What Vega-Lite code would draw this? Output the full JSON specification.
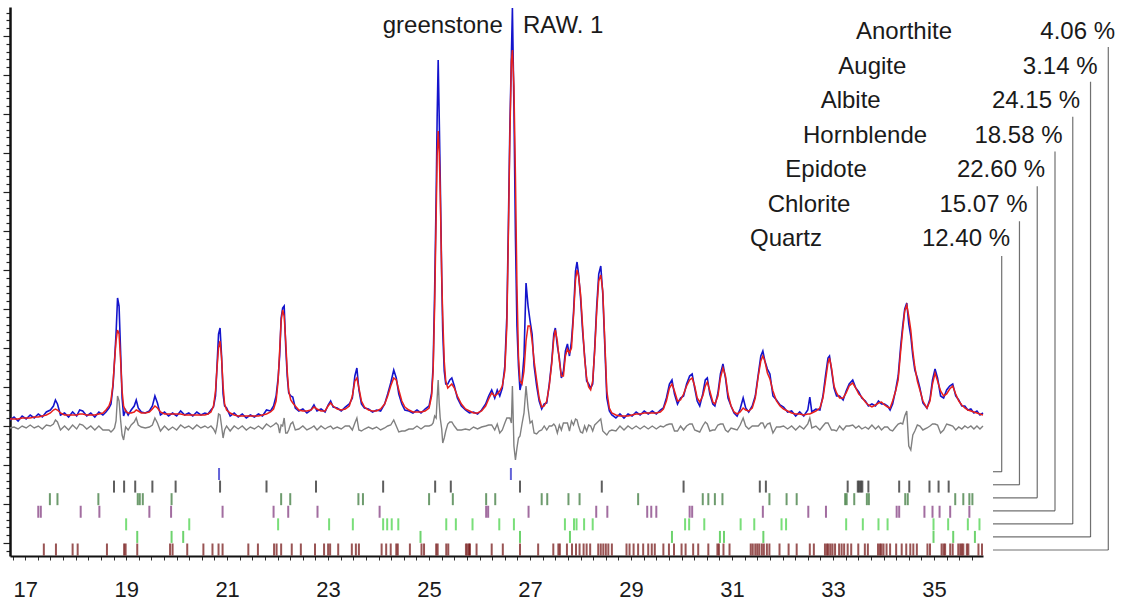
{
  "$schema": "https://vega.github.io/schema/vega-lite/v6.json",
  "width": 973,
  "height": 549,
  "autosize": {"type": "none"},
  "padding": {"left": 10, "top": 7, "right": 139, "bottom": 49},
  "background": "white",
  "config": {"view": {"stroke": null}, "font": "Liberation Sans"},
  "datasets": {
    "profile": [
      {"t":16.70,"obs":136,"calc":137,"diff":128},{"t":16.78,"obs":139,"calc":137,"diff":129},{"t":16.86,"obs":135,"calc":137,"diff":127},{"t":16.94,"obs":140,"calc":138,"diff":130},{"t":17.02,"obs":137,"calc":138,"diff":128},{"t":17.10,"obs":141,"calc":138,"diff":131},{"t":17.18,"obs":138,"calc":139,"diff":128},{"t":17.26,"obs":142,"calc":139,"diff":130},{"t":17.34,"obs":139,"calc":140,"diff":127},{"t":17.42,"obs":144,"calc":141,"diff":131},{"t":17.50,"obs":146,"calc":143,"diff":130},{"t":17.56,"obs":150,"calc":146,"diff":132},{"t":17.60,"obs":156,"calc":147,"diff":136},{"t":17.64,"obs":152,"calc":146,"diff":134},{"t":17.70,"obs":141,"calc":143,"diff":126},{"t":17.78,"obs":143,"calc":141,"diff":130},{"t":17.86,"obs":139,"calc":141,"diff":126},{"t":17.94,"obs":144,"calc":141,"diff":131},{"t":18.02,"obs":140,"calc":141,"diff":127},{"t":18.08,"obs":146,"calc":142,"diff":132},{"t":18.14,"obs":145,"calc":142,"diff":131},{"t":18.22,"obs":140,"calc":141,"diff":127},{"t":18.30,"obs":143,"calc":141,"diff":130},{"t":18.38,"obs":139,"calc":141,"diff":126},{"t":18.46,"obs":144,"calc":142,"diff":130},{"t":18.54,"obs":141,"calc":143,"diff":126},{"t":18.60,"obs":144,"calc":146,"diff":126},{"t":18.66,"obs":148,"calc":150,"diff":126},{"t":18.70,"obs":152,"calc":156,"diff":124},{"t":18.74,"obs":170,"calc":172,"diff":126},{"t":18.77,"obs":195,"calc":195,"diff":128},{"t":18.80,"obs":222,"calc":215,"diff":135},{"t":18.83,"obs":258,"calc":226,"diff":160},{"t":18.86,"obs":250,"calc":222,"diff":155},{"t":18.89,"obs":205,"calc":196,"diff":136},{"t":18.92,"obs":158,"calc":165,"diff":121},{"t":18.95,"obs":140,"calc":150,"diff":116},{"t":18.99,"obs":146,"calc":145,"diff":129},{"t":19.04,"obs":141,"calc":143,"diff":126},{"t":19.10,"obs":146,"calc":143,"diff":131},{"t":19.16,"obs":150,"calc":144,"diff":134},{"t":19.20,"obs":156,"calc":146,"diff":138},{"t":19.24,"obs":148,"calc":145,"diff":131},{"t":19.30,"obs":144,"calc":143,"diff":129},{"t":19.38,"obs":143,"calc":143,"diff":128},{"t":19.46,"obs":145,"calc":144,"diff":129},{"t":19.52,"obs":150,"calc":147,"diff":131},{"t":19.57,"obs":160,"calc":150,"diff":138},{"t":19.62,"obs":153,"calc":148,"diff":133},{"t":19.68,"obs":141,"calc":144,"diff":125},{"t":19.76,"obs":144,"calc":142,"diff":130},{"t":19.84,"obs":140,"calc":142,"diff":126},{"t":19.92,"obs":143,"calc":142,"diff":129},{"t":20.00,"obs":140,"calc":142,"diff":126},{"t":20.08,"obs":145,"calc":142,"diff":131},{"t":20.16,"obs":141,"calc":141,"diff":128},{"t":20.24,"obs":143,"calc":141,"diff":130},{"t":20.32,"obs":140,"calc":141,"diff":127},{"t":20.40,"obs":144,"calc":141,"diff":131},{"t":20.48,"obs":141,"calc":141,"diff":128},{"t":20.56,"obs":143,"calc":141,"diff":130},{"t":20.62,"obs":142,"calc":142,"diff":128},{"t":20.68,"obs":146,"calc":144,"diff":130},{"t":20.73,"obs":149,"calc":150,"diff":127},{"t":20.77,"obs":160,"calc":165,"diff":123},{"t":20.80,"obs":190,"calc":188,"diff":130},{"t":20.83,"obs":222,"calc":208,"diff":142},{"t":20.86,"obs":228,"calc":215,"diff":141},{"t":20.89,"obs":200,"calc":198,"diff":130},{"t":20.92,"obs":162,"calc":170,"diff":118},{"t":20.95,"obs":150,"calc":152,"diff":126},{"t":20.99,"obs":148,"calc":146,"diff":130},{"t":21.06,"obs":140,"calc":143,"diff":125},{"t":21.14,"obs":143,"calc":141,"diff":130},{"t":21.22,"obs":139,"calc":140,"diff":127},{"t":21.30,"obs":142,"calc":140,"diff":130},{"t":21.38,"obs":138,"calc":140,"diff":126},{"t":21.46,"obs":141,"calc":140,"diff":129},{"t":21.54,"obs":139,"calc":140,"diff":127},{"t":21.62,"obs":142,"calc":140,"diff":130},{"t":21.70,"obs":140,"calc":141,"diff":127},{"t":21.78,"obs":146,"calc":142,"diff":132},{"t":21.86,"obs":145,"calc":144,"diff":129},{"t":21.92,"obs":150,"calc":147,"diff":131},{"t":21.97,"obs":160,"calc":155,"diff":133},{"t":22.01,"obs":178,"calc":175,"diff":131},{"t":22.04,"obs":200,"calc":205,"diff":123},{"t":22.07,"obs":238,"calc":235,"diff":131},{"t":22.10,"obs":248,"calc":246,"diff":130},{"t":22.13,"obs":250,"calc":240,"diff":138},{"t":22.16,"obs":210,"calc":215,"diff":123},{"t":22.19,"obs":180,"calc":185,"diff":123},{"t":22.22,"obs":163,"calc":165,"diff":126},{"t":22.26,"obs":160,"calc":156,"diff":132},{"t":22.30,"obs":159,"calc":153,"diff":134},{"t":22.35,"obs":148,"calc":150,"diff":126},{"t":22.42,"obs":145,"calc":146,"diff":127},{"t":22.50,"obs":147,"calc":145,"diff":130},{"t":22.58,"obs":143,"calc":145,"diff":126},{"t":22.66,"obs":146,"calc":146,"diff":128},{"t":22.72,"obs":151,"calc":149,"diff":130},{"t":22.78,"obs":145,"calc":147,"diff":126},{"t":22.86,"obs":147,"calc":145,"diff":130},{"t":22.94,"obs":144,"calc":145,"diff":127},{"t":23.00,"obs":151,"calc":150,"diff":129},{"t":23.05,"obs":155,"calc":153,"diff":130},{"t":23.10,"obs":149,"calc":150,"diff":127},{"t":23.18,"obs":148,"calc":147,"diff":129},{"t":23.26,"obs":145,"calc":146,"diff":127},{"t":23.34,"obs":149,"calc":147,"diff":130},{"t":23.42,"obs":152,"calc":150,"diff":130},{"t":23.48,"obs":158,"calc":160,"diff":126},{"t":23.53,"obs":180,"calc":175,"diff":133},{"t":23.57,"obs":188,"calc":178,"diff":138},{"t":23.61,"obs":166,"calc":168,"diff":126},{"t":23.66,"obs":152,"calc":155,"diff":125},{"t":23.72,"obs":148,"calc":149,"diff":127},{"t":23.80,"obs":147,"calc":146,"diff":129},{"t":23.88,"obs":144,"calc":145,"diff":127},{"t":23.96,"obs":146,"calc":145,"diff":129},{"t":24.04,"obs":145,"calc":147,"diff":126},{"t":24.12,"obs":152,"calc":152,"diff":128},{"t":24.18,"obs":162,"calc":160,"diff":130},{"t":24.24,"obs":173,"calc":170,"diff":131},{"t":24.30,"obs":186,"calc":178,"diff":136},{"t":24.35,"obs":178,"calc":176,"diff":130},{"t":24.40,"obs":162,"calc":166,"diff":124},{"t":24.46,"obs":152,"calc":155,"diff":125},{"t":24.52,"obs":146,"calc":149,"diff":125},{"t":24.60,"obs":145,"calc":146,"diff":127},{"t":24.68,"obs":143,"calc":144,"diff":127},{"t":24.76,"obs":146,"calc":144,"diff":130},{"t":24.84,"obs":143,"calc":144,"diff":127},{"t":24.92,"obs":147,"calc":145,"diff":130},{"t":25.00,"obs":150,"calc":148,"diff":130},{"t":25.05,"obs":163,"calc":160,"diff":131},{"t":25.08,"obs":190,"calc":185,"diff":133},{"t":25.11,"obs":265,"calc":250,"diff":140},{"t":25.14,"obs":360,"calc":340,"diff":138},{"t":25.16,"obs":440,"calc":400,"diff":158},{"t":25.18,"obs":496,"calc":425,"diff":176},{"t":25.20,"obs":440,"calc":405,"diff":153},{"t":25.22,"obs":380,"calc":365,"diff":138},{"t":25.25,"obs":279,"calc":280,"diff":127},{"t":25.27,"obs":225,"calc":240,"diff":113},{"t":25.30,"obs":185,"calc":195,"diff":118},{"t":25.33,"obs":172,"calc":175,"diff":125},{"t":25.37,"obs":172,"calc":168,"diff":132},{"t":25.41,"obs":176,"calc":170,"diff":134},{"t":25.45,"obs":178,"calc":172,"diff":134},{"t":25.50,"obs":170,"calc":168,"diff":130},{"t":25.56,"obs":158,"calc":160,"diff":126},{"t":25.64,"obs":150,"calc":152,"diff":126},{"t":25.72,"obs":146,"calc":147,"diff":127},{"t":25.80,"obs":143,"calc":145,"diff":126},{"t":25.88,"obs":144,"calc":143,"diff":129},{"t":25.96,"obs":142,"calc":143,"diff":127},{"t":26.04,"obs":146,"calc":145,"diff":129},{"t":26.12,"obs":152,"calc":150,"diff":130},{"t":26.18,"obs":160,"calc":157,"diff":131},{"t":26.24,"obs":166,"calc":163,"diff":131},{"t":26.30,"obs":158,"calc":160,"diff":126},{"t":26.35,"obs":166,"calc":162,"diff":132},{"t":26.40,"obs":160,"calc":165,"diff":123},{"t":26.45,"obs":168,"calc":170,"diff":126},{"t":26.50,"obs":190,"calc":185,"diff":133},{"t":26.54,"obs":240,"calc":230,"diff":138},{"t":26.57,"obs":330,"calc":320,"diff":138},{"t":26.60,"obs":430,"calc":420,"diff":138},{"t":26.63,"obs":500,"calc":495,"diff":133},{"t":26.65,"obs":548,"calc":506,"diff":170},{"t":26.68,"obs":450,"calc":470,"diff":110},{"t":26.71,"obs":320,"calc":380,"diff":96},{"t":26.74,"obs":230,"calc":270,"diff":108},{"t":26.77,"obs":190,"calc":200,"diff":118},{"t":26.80,"obs":166,"calc":175,"diff":120},{"t":26.84,"obs":175,"calc":172,"diff":132},{"t":26.88,"obs":200,"calc":185,"diff":143},{"t":26.92,"obs":273,"calc":215,"diff":170},{"t":26.96,"obs":250,"calc":230,"diff":148},{"t":27.00,"obs":235,"calc":230,"diff":133},{"t":27.04,"obs":222,"calc":215,"diff":135},{"t":27.08,"obs":190,"calc":195,"diff":123},{"t":27.13,"obs":170,"calc":176,"diff":122},{"t":27.18,"obs":155,"calc":158,"diff":125},{"t":27.23,"obs":147,"calc":149,"diff":126},{"t":27.28,"obs":152,"calc":150,"diff":130},{"t":27.33,"obs":153,"calc":155,"diff":126},{"t":27.38,"obs":172,"calc":170,"diff":130},{"t":27.43,"obs":195,"calc":193,"diff":130},{"t":27.47,"obs":222,"calc":218,"diff":132},{"t":27.50,"obs":228,"calc":226,"diff":130},{"t":27.54,"obs":210,"calc":215,"diff":123},{"t":27.58,"obs":198,"calc":195,"diff":131},{"t":27.62,"obs":178,"calc":180,"diff":126},{"t":27.66,"obs":185,"calc":180,"diff":133},{"t":27.70,"obs":205,"calc":200,"diff":133},{"t":27.74,"obs":212,"calc":207,"diff":133},{"t":27.78,"obs":200,"calc":203,"diff":125},{"t":27.82,"obs":215,"calc":208,"diff":135},{"t":27.86,"obs":243,"calc":240,"diff":131},{"t":27.90,"obs":285,"calc":276,"diff":137},{"t":27.93,"obs":294,"calc":286,"diff":136},{"t":27.96,"obs":282,"calc":280,"diff":130},{"t":28.00,"obs":258,"calc":262,"diff":124},{"t":28.04,"obs":225,"calc":230,"diff":123},{"t":28.08,"obs":200,"calc":198,"diff":130},{"t":28.12,"obs":175,"calc":178,"diff":125},{"t":28.16,"obs":172,"calc":169,"diff":131},{"t":28.20,"obs":168,"calc":166,"diff":130},{"t":28.24,"obs":172,"calc":175,"diff":125},{"t":28.28,"obs":208,"calc":205,"diff":131},{"t":28.32,"obs":250,"calc":245,"diff":133},{"t":28.36,"obs":282,"calc":275,"diff":135},{"t":28.40,"obs":290,"calc":281,"diff":137},{"t":28.44,"obs":262,"calc":265,"diff":125},{"t":28.48,"obs":210,"calc":215,"diff":123},{"t":28.52,"obs":158,"calc":165,"diff":121},{"t":28.57,"obs":145,"calc":148,"diff":125},{"t":28.62,"obs":141,"calc":143,"diff":126},{"t":28.70,"obs":138,"calc":141,"diff":125},{"t":28.78,"obs":142,"calc":140,"diff":130},{"t":28.86,"obs":138,"calc":140,"diff":126},{"t":28.94,"obs":142,"calc":140,"diff":130},{"t":29.02,"obs":140,"calc":141,"diff":127},{"t":29.10,"obs":144,"calc":142,"diff":130},{"t":29.18,"obs":141,"calc":142,"diff":127},{"t":29.26,"obs":145,"calc":143,"diff":130},{"t":29.34,"obs":142,"calc":143,"diff":127},{"t":29.42,"obs":145,"calc":143,"diff":130},{"t":29.50,"obs":142,"calc":143,"diff":127},{"t":29.58,"obs":146,"calc":144,"diff":130},{"t":29.64,"obs":148,"calc":147,"diff":129},{"t":29.70,"obs":158,"calc":155,"diff":131},{"t":29.76,"obs":172,"calc":168,"diff":132},{"t":29.81,"obs":176,"calc":172,"diff":132},{"t":29.86,"obs":162,"calc":165,"diff":125},{"t":29.92,"obs":152,"calc":155,"diff":125},{"t":29.98,"obs":158,"calc":156,"diff":130},{"t":30.04,"obs":160,"calc":162,"diff":126},{"t":30.10,"obs":172,"calc":170,"diff":130},{"t":30.16,"obs":180,"calc":176,"diff":132},{"t":30.21,"obs":182,"calc":178,"diff":132},{"t":30.26,"obs":168,"calc":170,"diff":126},{"t":30.31,"obs":155,"calc":158,"diff":125},{"t":30.36,"obs":150,"calc":154,"diff":124},{"t":30.42,"obs":162,"calc":160,"diff":130},{"t":30.47,"obs":176,"calc":170,"diff":134},{"t":30.51,"obs":178,"calc":174,"diff":132},{"t":30.56,"obs":162,"calc":165,"diff":125},{"t":30.62,"obs":152,"calc":154,"diff":126},{"t":30.66,"obs":150,"calc":152,"diff":126},{"t":30.72,"obs":163,"calc":160,"diff":131},{"t":30.77,"obs":182,"calc":178,"diff":132},{"t":30.82,"obs":192,"calc":188,"diff":132},{"t":30.87,"obs":178,"calc":180,"diff":126},{"t":30.92,"obs":158,"calc":162,"diff":124},{"t":30.98,"obs":150,"calc":150,"diff":128},{"t":31.04,"obs":143,"calc":144,"diff":127},{"t":31.10,"obs":140,"calc":142,"diff":126},{"t":31.16,"obs":147,"calc":144,"diff":131},{"t":31.22,"obs":158,"calc":148,"diff":138},{"t":31.27,"obs":148,"calc":146,"diff":130},{"t":31.33,"obs":144,"calc":145,"diff":127},{"t":31.40,"obs":150,"calc":148,"diff":130},{"t":31.46,"obs":160,"calc":158,"diff":130},{"t":31.52,"obs":182,"calc":180,"diff":130},{"t":31.57,"obs":200,"calc":195,"diff":133},{"t":31.61,"obs":205,"calc":200,"diff":133},{"t":31.65,"obs":195,"calc":195,"diff":128},{"t":31.70,"obs":187,"calc":183,"diff":132},{"t":31.75,"obs":182,"calc":177,"diff":133},{"t":31.81,"obs":160,"calc":165,"diff":123},{"t":31.88,"obs":156,"calc":155,"diff":129},{"t":31.95,"obs":151,"calc":150,"diff":129},{"t":32.02,"obs":149,"calc":147,"diff":130},{"t":32.10,"obs":144,"calc":145,"diff":127},{"t":32.18,"obs":145,"calc":143,"diff":130},{"t":32.26,"obs":140,"calc":142,"diff":126},{"t":32.34,"obs":144,"calc":142,"diff":130},{"t":32.42,"obs":140,"calc":141,"diff":127},{"t":32.50,"obs":146,"calc":142,"diff":132},{"t":32.54,"obs":159,"calc":142,"diff":138},{"t":32.58,"obs":144,"calc":143,"diff":128},{"t":32.66,"obs":147,"calc":145,"diff":130},{"t":32.74,"obs":146,"calc":148,"diff":126},{"t":32.80,"obs":160,"calc":158,"diff":130},{"t":32.85,"obs":180,"calc":175,"diff":133},{"t":32.90,"obs":198,"calc":193,"diff":133},{"t":32.93,"obs":200,"calc":198,"diff":130},{"t":32.97,"obs":186,"calc":188,"diff":126},{"t":33.02,"obs":168,"calc":170,"diff":126},{"t":33.07,"obs":160,"calc":163,"diff":125},{"t":33.13,"obs":160,"calc":158,"diff":130},{"t":33.20,"obs":156,"calc":158,"diff":126},{"t":33.26,"obs":165,"calc":163,"diff":130},{"t":33.32,"obs":172,"calc":170,"diff":130},{"t":33.39,"obs":176,"calc":173,"diff":131},{"t":33.45,"obs":168,"calc":168,"diff":128},{"t":33.51,"obs":164,"calc":162,"diff":130},{"t":33.57,"obs":158,"calc":159,"diff":127},{"t":33.64,"obs":155,"calc":154,"diff":129},{"t":33.70,"obs":150,"calc":151,"diff":127},{"t":33.77,"obs":152,"calc":149,"diff":131},{"t":33.84,"obs":150,"calc":151,"diff":127},{"t":33.90,"obs":155,"calc":153,"diff":130},{"t":33.96,"obs":152,"calc":154,"diff":126},{"t":34.02,"obs":152,"calc":151,"diff":129},{"t":34.08,"obs":150,"calc":149,"diff":129},{"t":34.13,"obs":146,"calc":148,"diff":126},{"t":34.18,"obs":152,"calc":155,"diff":125},{"t":34.24,"obs":166,"calc":165,"diff":129},{"t":34.29,"obs":180,"calc":176,"diff":132},{"t":34.34,"obs":210,"calc":205,"diff":133},{"t":34.38,"obs":230,"calc":226,"diff":132},{"t":34.42,"obs":247,"calc":245,"diff":140},{"t":34.46,"obs":253,"calc":251,"diff":145},{"t":34.50,"obs":232,"calc":240,"diff":110},{"t":34.54,"obs":220,"calc":226,"diff":106},{"t":34.58,"obs":200,"calc":205,"diff":121},{"t":34.62,"obs":186,"calc":189,"diff":125},{"t":34.67,"obs":178,"calc":175,"diff":131},{"t":34.72,"obs":168,"calc":166,"diff":130},{"t":34.78,"obs":153,"calc":155,"diff":126},{"t":34.86,"obs":148,"calc":148,"diff":128},{"t":34.92,"obs":157,"calc":155,"diff":130},{"t":34.97,"obs":176,"calc":172,"diff":132},{"t":35.02,"obs":187,"calc":183,"diff":132},{"t":35.07,"obs":178,"calc":175,"diff":131},{"t":35.13,"obs":160,"calc":165,"diff":123},{"t":35.19,"obs":158,"calc":160,"diff":126},{"t":35.25,"obs":166,"calc":162,"diff":132},{"t":35.31,"obs":170,"calc":167,"diff":131},{"t":35.37,"obs":172,"calc":170,"diff":130},{"t":35.43,"obs":160,"calc":162,"diff":126},{"t":35.49,"obs":156,"calc":155,"diff":129},{"t":35.55,"obs":150,"calc":151,"diff":127},{"t":35.61,"obs":150,"calc":148,"diff":130},{"t":35.67,"obs":146,"calc":146,"diff":128},{"t":35.73,"obs":147,"calc":145,"diff":130},{"t":35.79,"obs":143,"calc":144,"diff":127},{"t":35.85,"obs":145,"calc":143,"diff":130},{"t":35.91,"obs":141,"calc":142,"diff":127},{"t":35.97,"obs":143,"calc":141,"diff":130}
    ],
    "ticks": [
      {"phase":"Quartz","t":20.84},{"phase":"Quartz","t":26.62},
      {"phase":"Chlorite","t":18.76},{"phase":"Chlorite","t":18.96},{"phase":"Chlorite","t":19.18},{"phase":"Chlorite","t":19.52},{"phase":"Chlorite","t":19.98},{"phase":"Chlorite","t":20.86},{"phase":"Chlorite","t":21.78},{"phase":"Chlorite","t":22.76},{"phase":"Chlorite","t":24.09},{"phase":"Chlorite","t":25.12},{"phase":"Chlorite","t":25.43},{"phase":"Chlorite","t":26.80},{"phase":"Chlorite","t":28.42},{"phase":"Chlorite","t":30.04},{"phase":"Chlorite","t":31.55},{"phase":"Chlorite","t":31.67},{"phase":"Chlorite","t":33.29},{"phase":"Chlorite","t":33.49},{"phase":"Chlorite","t":33.52},{"phase":"Chlorite","t":33.55},{"phase":"Chlorite","t":33.58},{"phase":"Chlorite","t":33.70},{"phase":"Chlorite","t":34.31},{"phase":"Chlorite","t":34.51},{"phase":"Chlorite","t":34.91},{"phase":"Chlorite","t":35.09},{"phase":"Chlorite","t":35.29},
      {"phase":"Epidote","t":17.49},{"phase":"Epidote","t":17.64},{"phase":"Epidote","t":18.45},{"phase":"Epidote","t":19.23},{"phase":"Epidote","t":19.27},{"phase":"Epidote","t":19.33},{"phase":"Epidote","t":19.90},{"phase":"Epidote","t":22.07},{"phase":"Epidote","t":22.25},{"phase":"Epidote","t":23.60},{"phase":"Epidote","t":23.69},{"phase":"Epidote","t":25.00},{"phase":"Epidote","t":25.47},{"phase":"Epidote","t":26.13},{"phase":"Epidote","t":26.31},{"phase":"Epidote","t":27.23},{"phase":"Epidote","t":27.34},{"phase":"Epidote","t":27.76},{"phase":"Epidote","t":27.98},{"phase":"Epidote","t":29.14},{"phase":"Epidote","t":30.42},{"phase":"Epidote","t":30.53},{"phase":"Epidote","t":30.66},{"phase":"Epidote","t":30.81},{"phase":"Epidote","t":31.74},{"phase":"Epidote","t":32.08},{"phase":"Epidote","t":32.28},{"phase":"Epidote","t":33.24},{"phase":"Epidote","t":33.27},{"phase":"Epidote","t":33.42},{"phase":"Epidote","t":33.67},{"phase":"Epidote","t":33.71},{"phase":"Epidote","t":34.43},{"phase":"Epidote","t":34.48},{"phase":"Epidote","t":35.42},{"phase":"Epidote","t":35.58},{"phase":"Epidote","t":35.70},{"phase":"Epidote","t":35.76},
      {"phase":"Hornblende","t":17.26},{"phase":"Hornblende","t":17.31},{"phase":"Hornblende","t":18.10},{"phase":"Hornblende","t":18.47},{"phase":"Hornblende","t":19.46},{"phase":"Hornblende","t":19.89},{"phase":"Hornblende","t":20.91},{"phase":"Hornblende","t":21.92},{"phase":"Hornblende","t":22.21},{"phase":"Hornblende","t":22.79},{"phase":"Hornblende","t":24.02},{"phase":"Hornblende","t":26.13},{"phase":"Hornblende","t":26.17},{"phase":"Hornblende","t":26.97},{"phase":"Hornblende","t":28.31},{"phase":"Hornblende","t":28.53},{"phase":"Hornblende","t":29.32},{"phase":"Hornblende","t":29.40},{"phase":"Hornblende","t":29.50},{"phase":"Hornblende","t":30.16},{"phase":"Hornblende","t":30.21},{"phase":"Hornblende","t":31.61},{"phase":"Hornblende","t":32.51},{"phase":"Hornblende","t":32.86},{"phase":"Hornblende","t":34.26},{"phase":"Hornblende","t":34.31},{"phase":"Hornblende","t":34.81},{"phase":"Hornblende","t":34.97},{"phase":"Hornblende","t":35.11},{"phase":"Hornblende","t":35.32},{"phase":"Hornblende","t":35.70},
      {"phase":"Albite","t":19.00},{"phase":"Albite","t":20.25},{"phase":"Albite","t":22.01},{"phase":"Albite","t":23.02},{"phase":"Albite","t":23.49},{"phase":"Albite","t":24.09},{"phase":"Albite","t":24.17},{"phase":"Albite","t":24.26},{"phase":"Albite","t":24.39},{"phase":"Albite","t":25.34},{"phase":"Albite","t":25.53},{"phase":"Albite","t":25.86},{"phase":"Albite","t":26.39},{"phase":"Albite","t":26.68},{"phase":"Albite","t":27.69},{"phase":"Albite","t":27.87},{"phase":"Albite","t":27.92},{"phase":"Albite","t":28.07},{"phase":"Albite","t":28.24},{"phase":"Albite","t":30.07},{"phase":"Albite","t":30.15},{"phase":"Albite","t":30.45},{"phase":"Albite","t":31.17},{"phase":"Albite","t":31.44},{"phase":"Albite","t":31.98},{"phase":"Albite","t":32.07},{"phase":"Albite","t":33.26},{"phase":"Albite","t":33.59},{"phase":"Albite","t":33.90},{"phase":"Albite","t":34.08},{"phase":"Albite","t":34.99},{"phase":"Albite","t":35.28},{"phase":"Albite","t":35.67},{"phase":"Albite","t":35.90},
      {"phase":"Augite","t":19.22},{"phase":"Augite","t":19.90},{"phase":"Augite","t":20.13},{"phase":"Augite","t":24.83},{"phase":"Augite","t":26.80},{"phase":"Augite","t":27.79},{"phase":"Augite","t":29.81},{"phase":"Augite","t":30.76},{"phase":"Augite","t":30.84},{"phase":"Augite","t":31.62},{"phase":"Augite","t":34.99},{"phase":"Augite","t":35.38},{"phase":"Augite","t":35.81},
      {"phase":"Anorthite","t":17.37},{"phase":"Anorthite","t":17.61},{"phase":"Anorthite","t":17.94},{"phase":"Anorthite","t":18.04},{"phase":"Anorthite","t":18.62},{"phase":"Anorthite","t":18.96},{"phase":"Anorthite","t":18.99},{"phase":"Anorthite","t":19.22},{"phase":"Anorthite","t":19.87},{"phase":"Anorthite","t":19.92},{"phase":"Anorthite","t":20.21},{"phase":"Anorthite","t":20.53},{"phase":"Anorthite","t":20.71},{"phase":"Anorthite","t":20.83},{"phase":"Anorthite","t":20.91},{"phase":"Anorthite","t":21.42},{"phase":"Anorthite","t":21.61},{"phase":"Anorthite","t":21.93},{"phase":"Anorthite","t":21.98},{"phase":"Anorthite","t":22.07},{"phase":"Anorthite","t":22.28},{"phase":"Anorthite","t":22.46},{"phase":"Anorthite","t":22.74},{"phase":"Anorthite","t":22.92},{"phase":"Anorthite","t":23.00},{"phase":"Anorthite","t":23.04},{"phase":"Anorthite","t":23.20},{"phase":"Anorthite","t":23.47},{"phase":"Anorthite","t":23.55},{"phase":"Anorthite","t":23.61},{"phase":"Anorthite","t":24.06},{"phase":"Anorthite","t":24.15},{"phase":"Anorthite","t":24.24},{"phase":"Anorthite","t":24.35},{"phase":"Anorthite","t":24.38},{"phase":"Anorthite","t":24.62},{"phase":"Anorthite","t":24.85},{"phase":"Anorthite","t":24.90},{"phase":"Anorthite","t":25.14},{"phase":"Anorthite","t":25.17},{"phase":"Anorthite","t":25.34},{"phase":"Anorthite","t":25.38},{"phase":"Anorthite","t":25.73},{"phase":"Anorthite","t":25.76},{"phase":"Anorthite","t":25.79},{"phase":"Anorthite","t":25.81},{"phase":"Anorthite","t":25.94},{"phase":"Anorthite","t":26.24},{"phase":"Anorthite","t":26.46},{"phase":"Anorthite","t":26.80},{"phase":"Anorthite","t":27.16},{"phase":"Anorthite","t":27.46},{"phase":"Anorthite","t":27.56},{"phase":"Anorthite","t":27.59},{"phase":"Anorthite","t":27.73},{"phase":"Anorthite","t":27.83},{"phase":"Anorthite","t":27.91},{"phase":"Anorthite","t":27.98},{"phase":"Anorthite","t":28.06},{"phase":"Anorthite","t":28.12},{"phase":"Anorthite","t":28.19},{"phase":"Anorthite","t":28.35},{"phase":"Anorthite","t":28.40},{"phase":"Anorthite","t":28.45},{"phase":"Anorthite","t":28.50},{"phase":"Anorthite","t":28.55},{"phase":"Anorthite","t":28.62},{"phase":"Anorthite","t":28.91},{"phase":"Anorthite","t":28.97},{"phase":"Anorthite","t":29.05},{"phase":"Anorthite","t":29.14},{"phase":"Anorthite","t":29.24},{"phase":"Anorthite","t":29.34},{"phase":"Anorthite","t":29.41},{"phase":"Anorthite","t":29.47},{"phase":"Anorthite","t":29.64},{"phase":"Anorthite","t":29.75},{"phase":"Anorthite","t":29.85},{"phase":"Anorthite","t":30.00},{"phase":"Anorthite","t":30.08},{"phase":"Anorthite","t":30.23},{"phase":"Anorthite","t":30.33},{"phase":"Anorthite","t":30.53},{"phase":"Anorthite","t":30.71},{"phase":"Anorthite","t":30.74},{"phase":"Anorthite","t":30.83},{"phase":"Anorthite","t":30.95},{"phase":"Anorthite","t":31.37},{"phase":"Anorthite","t":31.41},{"phase":"Anorthite","t":31.46},{"phase":"Anorthite","t":31.50},{"phase":"Anorthite","t":31.54},{"phase":"Anorthite","t":31.59},{"phase":"Anorthite","t":31.63},{"phase":"Anorthite","t":31.69},{"phase":"Anorthite","t":31.74},{"phase":"Anorthite","t":31.94},{"phase":"Anorthite","t":32.12},{"phase":"Anorthite","t":32.28},{"phase":"Anorthite","t":32.54},{"phase":"Anorthite","t":32.62},{"phase":"Anorthite","t":32.84},{"phase":"Anorthite","t":32.88},{"phase":"Anorthite","t":32.91},{"phase":"Anorthite","t":32.95},{"phase":"Anorthite","t":32.99},{"phase":"Anorthite","t":33.04},{"phase":"Anorthite","t":33.12},{"phase":"Anorthite","t":33.17},{"phase":"Anorthite","t":33.22},{"phase":"Anorthite","t":33.29},{"phase":"Anorthite","t":33.36},{"phase":"Anorthite","t":33.50},{"phase":"Anorthite","t":33.63},{"phase":"Anorthite","t":33.69},{"phase":"Anorthite","t":33.89},{"phase":"Anorthite","t":33.93},{"phase":"Anorthite","t":33.96},{"phase":"Anorthite","t":34.00},{"phase":"Anorthite","t":34.06},{"phase":"Anorthite","t":34.13},{"phase":"Anorthite","t":34.25},{"phase":"Anorthite","t":34.36},{"phase":"Anorthite","t":34.45},{"phase":"Anorthite","t":34.53},{"phase":"Anorthite","t":34.59},{"phase":"Anorthite","t":34.66},{"phase":"Anorthite","t":34.87},{"phase":"Anorthite","t":34.92},{"phase":"Anorthite","t":35.15},{"phase":"Anorthite","t":35.19},{"phase":"Anorthite","t":35.22},{"phase":"Anorthite","t":35.32},{"phase":"Anorthite","t":35.37},{"phase":"Anorthite","t":35.48},{"phase":"Anorthite","t":35.52},{"phase":"Anorthite","t":35.55},{"phase":"Anorthite","t":35.58},{"phase":"Anorthite","t":35.65},{"phase":"Anorthite","t":35.68},{"phase":"Anorthite","t":35.88},{"phase":"Anorthite","t":35.95}
    ],
    "phases": [
      {"phase":"Quartz","share":"12.40 %","rank":0},
      {"phase":"Chlorite","share":"15.07 %","rank":1},
      {"phase":"Epidote","share":"22.60 %","rank":2},
      {"phase":"Hornblende","share":"18.58 %","rank":3},
      {"phase":"Albite","share":"24.15 %","rank":4},
      {"phase":"Augite","share":"3.14 %","rank":5},
      {"phase":"Anorthite","share":"4.06 %","rank":6}
    ]
  },
  "layer": [
    {
      "data": {"name": "profile"},
      "transform": [{"fold": ["obs", "calc", "diff"], "as": ["series", "value"]}],
      "mark": {"type": "line"},
      "encoding": {
        "x": {"field": "t", "type": "quantitative",
          "scale": {"domain": [16.70, 35.97], "nice": false, "zero": false},
          "axis": {"title": null, "grid": false,
            "values": [16.75,17,17.25,17.5,17.75,18,18.25,18.5,18.75,19,19.25,19.5,19.75,20,20.25,20.5,20.75,21,21.25,21.5,21.75,22,22.25,22.5,22.75,23,23.25,23.5,23.75,24,24.25,24.5,24.75,25,25.25,25.5,25.75,26,26.25,26.5,26.75,27,27.25,27.5,27.75,28,28.25,28.5,28.75,29,29.25,29.5,29.75,30,30.25,30.5,30.75,31,31.25,31.5,31.75,32,32.25,32.5,32.75,33,33.25,33.5,33.75,34,34.25,34.5,34.75,35,35.25,35.5,35.75],
            "labelExpr": "datum.value % 2 == 1 ? '' + datum.value : ''",
            "labelOverlap": false, "labelFlush": false, "labelBound": false,
            "labelFontSize": 22, "labelFont": "Liberation Sans", "labelColor": "#1a1a1a",
            "labelPadding": 19, "tickSize": 4, "tickColor": "#333333", "tickWidth": 1,
            "domainColor": "#111111", "domainWidth": 2}
        },
        "y": {"field": "value", "type": "quantitative",
          "scale": {"domain": [0, 549], "nice": false, "zero": false},
          "axis": {"title": null, "grid": false, "labels": false,
            "values": [5.2,13,20.8,28.6,36.4,44.2,52,59.8,67.6,75.4,83.2,91,98.8,106.6,114.4,122.2,130,137.8,145.6,153.4,161.2,169,176.8,184.6,192.4,200.2,208,215.8,223.6,231.4,239.2,247,254.8,262.6,270.4,278.2,286,293.8,301.6,309.4,317.2,325,332.8,340.6,348.4,356.2,364,371.8,379.6,387.4,395.2,403,410.8,418.6,426.4,434.2,442,449.8,457.6,465.4,473.2,481,488.8,496.6,504.4,512.2,520,527.8,535.6,543.4],
            "tickSize": {"condition": {"test": "datum.value % 39 == 13", "value": 7}, "value": 4},
            "tickColor": "#222222", "tickWidth": 1.2,
            "domainColor": "#111111", "domainWidth": 2.5}
        },
        "color": {"field": "series", "type": "nominal",
          "scale": {"domain": ["obs", "calc", "diff"], "range": ["#1414cc", "#e8201c", "#808080"]},
          "legend": null},
        "strokeWidth": {"field": "series", "type": "nominal",
          "scale": {"domain": ["obs", "calc", "diff"], "range": [1.6, 1.4, 1.2]},
          "legend": null}
      }
    },
    {
      "data": {"values": [{"label": "greenstone"}]},
      "mark": {"type": "text", "align": "right", "baseline": "alphabetic", "fontSize": 24, "font": "Liberation Sans", "color": "#1a1a1a"},
      "encoding": {
        "x": {"datum": 26.46, "type": "quantitative", "scale": {"domain": [16.70, 35.97], "nice": false, "zero": false}, "axis": null},
        "y": {"datum": 523, "type": "quantitative", "scale": {"domain": [0, 549], "nice": false, "zero": false}, "axis": null},
        "text": {"field": "label"}
      }
    },
    {
      "data": {"values": [{"label": "RAW. 1"}]},
      "mark": {"type": "text", "align": "left", "baseline": "alphabetic", "fontSize": 24, "font": "Liberation Sans", "color": "#1a1a1a"},
      "encoding": {
        "x": {"datum": 26.86, "type": "quantitative", "scale": {"domain": [16.70, 35.97], "nice": false, "zero": false}, "axis": null},
        "y": {"datum": 523, "type": "quantitative", "scale": {"domain": [0, 549], "nice": false, "zero": false}, "axis": null},
        "text": {"field": "label"}
      }
    },
    {
      "data": {"name": "ticks"},
      "mark": {"type": "tick", "orient": "vertical", "thickness": 2, "size": 12},
      "encoding": {
        "x": {"field": "t", "type": "quantitative", "scale": {"domain": [16.70, 35.97], "nice": false, "zero": false}, "axis": null},
        "y": {"field": "phase", "type": "nominal",
          "scale": {"type": "point", "domain": ["Quartz","Chlorite","Epidote","Hornblende","Albite","Augite","Anorthite"], "range": [467, 542.5], "padding": 0},
          "axis": null},
        "color": {"field": "phase", "type": "nominal",
          "scale": {"domain": ["Quartz","Chlorite","Epidote","Hornblende","Albite","Augite","Anorthite"],
                    "range": ["#2020c8","#1a1a1a","#2f702f","#7a2f78","#40d040","#30c030","#6e0c0c"]},
          "legend": null}
      }
    },
    {
      "data": {"name": "phases"},
      "mark": {"type": "text", "align": "left", "baseline": "alphabetic", "fontSize": 24, "font": "Liberation Sans", "color": "#1a1a1a"},
      "encoding": {
        "x": {"field": "rank", "type": "quantitative", "scale": {"domain": [0, 6], "range": [740, 846], "nice": false, "zero": false}, "axis": null},
        "y": {"field": "rank", "type": "quantitative", "scale": {"domain": [0, 6], "range": [239, 32.3], "nice": false, "zero": false}, "axis": null},
        "text": {"field": "phase"}
      }
    },
    {
      "data": {"name": "phases"},
      "mark": {"type": "text", "align": "right", "baseline": "alphabetic", "fontSize": 24, "font": "Liberation Sans", "color": "#1a1a1a"},
      "encoding": {
        "x": {"field": "rank", "type": "quantitative", "scale": {"domain": [0, 6], "range": [1000, 1105], "nice": false, "zero": false}, "axis": null},
        "y": {"field": "rank", "type": "quantitative", "scale": {"domain": [0, 6], "range": [239, 32.3], "nice": false, "zero": false}, "axis": null},
        "text": {"field": "share"}
      }
    },
    {
      "data": {"name": "phases"},
      "mark": {"type": "tick", "orient": "vertical", "thickness": 1.2, "color": "#333333"},
      "encoding": {
        "x": {"field": "rank", "type": "quantitative", "scale": {"domain": [0, 6], "range": [991.7, 1098.3], "nice": false, "zero": false}, "axis": null},
        "y": {"field": "rank", "type": "quantitative", "scale": {"domain": [0, 6], "range": [356.85, 291.5], "nice": false, "zero": false}, "axis": null},
        "size": {"field": "rank", "type": "quantitative", "scale": {"domain": [0, 6], "range": [215.7, 503], "zero": false}, "legend": null}
      }
    },
    {
      "data": {"name": "phases"},
      "mark": {"type": "tick", "orient": "horizontal", "thickness": 1.2, "color": "#333333"},
      "encoding": {
        "x": {"field": "rank", "type": "quantitative", "scale": {"domain": [0, 6], "range": [987.35, 1040.65], "nice": false, "zero": false}, "axis": null},
        "y": {"field": "rank", "type": "quantitative", "scale": {"domain": [0, 6], "range": [464.7, 543], "nice": false, "zero": false}, "axis": null},
        "size": {"field": "rank", "type": "quantitative", "scale": {"domain": [0, 6], "range": [8.7, 115.3], "zero": false}, "legend": null}
      }
    }
  ],
  "resolve": {
    "scale": {"x": "independent", "y": "independent", "color": "independent", "size": "independent", "strokeWidth": "independent"},
    "axis": {"x": "independent", "y": "independent"}
  }
}
